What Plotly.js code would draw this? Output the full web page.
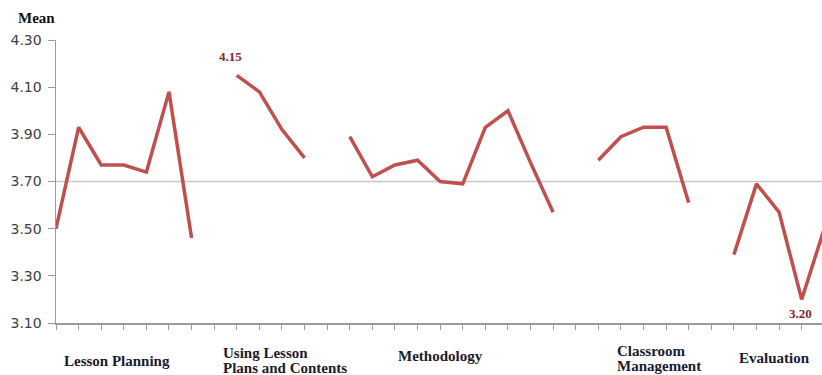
<!DOCTYPE html>
<html>
<head>
<meta charset="utf-8">
<script src="https://cdn.plot.ly/plotly-3.0.1.min.js"></script>
<style>html,body{margin:0;padding:0;background:#fff;}#chart{width:822px;height:375px;}</style>
</head>
<body>
<div id="chart"></div>
<script>
// Data (means per item, grouped by category; gaps separate categories)
const categories = ["Lesson Planning", "Using Lesson<br>Plans and Contents", "Methodology", "Classroom<br>Management", "Evaluation"];
const lessonPlanning = [3.50, 3.93, 3.77, 3.77, 3.74, 4.08, 3.46];
const usingLessonPlans = [4.15, 4.08, 3.92, 3.80];
const methodology = [3.89, 3.72, 3.77, 3.79, 3.70, 3.69, 3.93, 4.00, 3.78, 3.57];
const classroomManagement = [3.79, 3.89, 3.93, 3.93, 3.61];
const evaluation = [3.39, 3.69, 3.57, 3.20, 3.50];
const yTickVals = [3.10, 3.30, 3.50, 3.70, 3.90, 4.10, 4.30];
const yTickText = ["3.10", "3.30", "3.50", "3.70", "3.90", "4.10", "4.30"];
const referenceMean = 3.70;
const maxLabel = "4.15";
const minLabel = "3.20";

const groups = [lessonPlanning, usingLessonPlans, methodology, classroomManagement, evaluation];
const yAll = [];
groups.forEach((g, i) => { if (i > 0) yAll.push(null); g.forEach(v => yAll.push(v)); });
const xAll = yAll.map((_, i) => i);

const starts = [];
{ let s = 0; groups.forEach(g => { starts.push(s); s += g.length + 1; }); }

const lineColor = "#C0504D";
const serif = "Liberation Serif, DejaVu Serif, serif";
const labelFont = {family: serif, size: 15, color: "#1b1b30"};

// pixel-based vertical placement helper (plot bottom at 323 px, height 283 px)
const py = p => (323 - p) / 283;

const catPos = [
  {x: starts[0] + 2.7, xanchor: "center", ys: [361]},
  {x: starts[1] - 0.72, xanchor: "left", ys: [353, 368]},
  {x: starts[2] + 4.0, xanchor: "center", ys: [356]},
  {x: starts[3] + 0.72, xanchor: "left", ys: [351, 366]},
  {x: starts[4] + 1.8, xanchor: "center", ys: [358]}
];

const annotations = [];
categories.forEach((c, i) => {
  c.split("<br>").forEach((line, j) => {
    annotations.push({
      text: "<b>" + line + "</b>", xref: "x", yref: "paper",
      x: catPos[i].x, y: py(catPos[i].ys[j]), xanchor: catPos[i].xanchor, yanchor: "middle",
      showarrow: false, font: labelFont
    });
  });
});

const maxIdx = starts[1];
const minIdx = starts[4] + 3;
annotations.push({text: "<b>" + maxLabel + "</b>", xref: "x", yref: "y", x: maxIdx, y: Math.max(...usingLessonPlans),
  xanchor: "center", yanchor: "bottom", xshift: -6, yshift: 9, showarrow: false,
  font: {family: serif, size: 13, color: "#8B1E2E"}});
annotations.push({text: "<b>" + minLabel + "</b>", xref: "x", yref: "y", x: minIdx, y: Math.min(...evaluation),
  xanchor: "center", yanchor: "top", xshift: -1, yshift: -5, showarrow: false,
  font: {family: serif, size: 13, color: "#8B1E2E"}});
annotations.push({text: "<b>Mean</b>", xref: "paper", yref: "paper", x: -0.025, y: py(17.5),
  xanchor: "center", yanchor: "middle", showarrow: false,
  font: {family: serif, size: 15, color: "#111111"}});

const trace = {
  x: xAll, y: yAll, type: "scatter", mode: "lines",
  line: {color: lineColor, width: 3.5}, connectgaps: false, hoverinfo: "skip"
};

const layout = {
  width: 822, height: 375,
  margin: {l: 56, r: 0, t: 40, b: 52},
  paper_bgcolor: "#ffffff", plot_bgcolor: "#ffffff",
  showlegend: false,
  xaxis: {
    range: [0, 33.9], tickmode: "linear", tick0: 0, dtick: 1,
    showticklabels: false, ticks: "outside", ticklen: 5, tickcolor: "#9a9a9a", tickwidth: 1,
    showline: true, linecolor: "#9a9a9a", linewidth: 1.5, showgrid: false, zeroline: false, fixedrange: true
  },
  yaxis: {
    range: [3.10, 4.30], tickmode: "array", tickvals: yTickVals, ticktext: yTickText,
    ticks: "outside", ticklen: 7, tickcolor: "#9a9a9a", tickwidth: 1, ticklabelstandoff: 3,
    showline: true, linecolor: "#9a9a9a", linewidth: 1.5, showgrid: false, zeroline: false,
    tickfont: {family: "DejaVu Sans, sans-serif", size: 14, color: "#404040"}, fixedrange: true
  },
  shapes: [{type: "line", xref: "paper", yref: "y", x0: 0, x1: 1, y0: referenceMean, y1: referenceMean,
    line: {color: "#c8c8c8", width: 1.5}, layer: "below"}],
  annotations: annotations
};

Plotly.newPlot("chart", [trace], layout, {displayModeBar: false, staticPlot: true});
</script>
</body>
</html>
